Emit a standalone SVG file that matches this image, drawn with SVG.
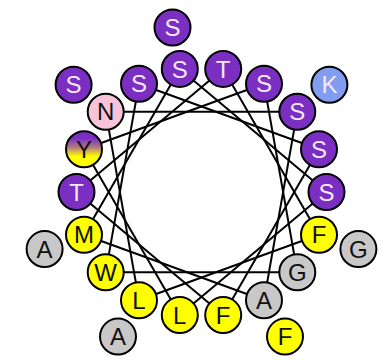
<svg xmlns="http://www.w3.org/2000/svg" width="384" height="360" viewBox="0 0 384 360">
<style>
.c{stroke:#000;stroke-width:2}
.p{fill:#7b2fc2}
.y{fill:#ffff00}
.g{fill:#c8c8c8}
.n{fill:#f6c3d8}
.k{fill:#809df0}
.yg{fill:url(#ygrad)}
text{font-family:"Liberation Sans",Arial,sans-serif;font-size:24px;text-anchor:middle}
.tw{fill:#f6e8f6}
.tb{fill:#111}
#links line{stroke:#000;stroke-width:2}
</style>
<defs>
<linearGradient id="ygrad" x1="0" y1="0" x2="0" y2="1">
<stop offset="0.2" stop-color="#7b2fc2"/>
<stop offset="0.45" stop-color="#b07a80"/>
<stop offset="0.7" stop-color="#ffff00"/>
</linearGradient>
</defs>
<rect width="384" height="360" fill="#fff"/>
<g id="links">
<line x1="326.5" y1="192" x2="179.8" y2="315.1"/>
<line x1="319.0" y1="234.8" x2="139.0" y2="300.3"/>
<line x1="297.3" y1="272.3" x2="105.7" y2="272.3"/>
<line x1="264.0" y1="300.3" x2="84.0" y2="234.8"/>
<line x1="223.2" y1="315.1" x2="76.5" y2="192"/>
<line x1="179.8" y1="315.1" x2="84.0" y2="149.2"/>
<line x1="139.0" y1="300.3" x2="105.7" y2="111.7"/>
<line x1="105.7" y1="272.3" x2="139.0" y2="83.7"/>
<line x1="84.0" y1="234.8" x2="179.8" y2="68.9"/>
<line x1="76.5" y1="192" x2="223.2" y2="68.9"/>
<line x1="84.0" y1="149.2" x2="264.0" y2="83.7"/>
<line x1="105.7" y1="111.7" x2="297.3" y2="111.7"/>
<line x1="139.0" y1="83.7" x2="319.0" y2="149.2"/>
<line x1="179.8" y1="68.9" x2="326.5" y2="192"/>
<line x1="223.2" y1="68.9" x2="319.0" y2="234.8"/>
<line x1="264.0" y1="83.7" x2="297.3" y2="272.3"/>
<line x1="297.3" y1="111.7" x2="264.0" y2="300.3"/>
<line x1="319.0" y1="149.2" x2="223.2" y2="315.1"/>
</g>
<g id="r19"><circle class="c g" cx="358.4" cy="249.1" r="18"/><text class="tb" x="358.4" y="257.7">G</text></g>
<g id="r20"><circle class="c g" cx="118.0" cy="336.6" r="18"/><text class="tb" x="118.0" y="345.2">A</text></g>
<g id="r21"><circle class="c p" cx="73.6" cy="84.7" r="18"/><text class="tw" x="73.6" y="93.3">S</text></g>
<g id="r22"><circle class="c k" cx="329.4" cy="84.7" r="18"/><text class="tw" x="329.4" y="93.3">K</text></g>
<g id="r23"><circle class="c y" cx="285.0" cy="336.6" r="18"/><text class="tb" x="285.0" y="345.2">F</text></g>
<g id="r24"><circle class="c g" cx="44.6" cy="249.1" r="18"/><text class="tb" x="44.6" y="257.7">A</text></g>
<g id="r25"><circle class="c p" cx="172.5" cy="27.5" r="18"/><text class="tw" x="172.5" y="36.1">S</text></g>
<g id="r1"><circle class="c y" cx="319.0" cy="234.8" r="18"/><text class="tb" x="319.0" y="243.4">F</text></g>
<g id="r2"><circle class="c y" cx="139.0" cy="300.3" r="18"/><text class="tb" x="139.0" y="308.9">L</text></g>
<g id="r3"><circle class="c n" cx="105.7" cy="111.7" r="18"/><text class="tb" x="105.7" y="120.3">N</text></g>
<g id="r4"><circle class="c p" cx="297.3" cy="111.7" r="18"/><text class="tw" x="297.3" y="120.3">S</text></g>
<g id="r5"><circle class="c g" cx="264.0" cy="300.3" r="18"/><text class="tb" x="264.0" y="308.9">A</text></g>
<g id="r6"><circle class="c y" cx="84.0" cy="234.8" r="18"/><text class="tb" x="84.0" y="243.4">M</text></g>
<g id="r7"><circle class="c p" cx="179.8" cy="68.9" r="18"/><text class="tw" x="179.8" y="77.5">S</text></g>
<g id="r8"><circle class="c p" cx="326.5" cy="192" r="18"/><text class="tw" x="326.5" y="200.6">S</text></g>
<g id="r9"><circle class="c y" cx="179.8" cy="315.1" r="18"/><text class="tb" x="179.8" y="323.7">L</text></g>
<g id="r10"><circle class="c yg" cx="84.0" cy="149.2" r="18"/><text class="tb" x="84.0" y="157.8">Y</text></g>
<g id="r11"><circle class="c p" cx="264.0" cy="83.7" r="18"/><text class="tw" x="264.0" y="92.3">S</text></g>
<g id="r12"><circle class="c g" cx="297.3" cy="272.3" r="18"/><text class="tb" x="297.3" y="280.9">G</text></g>
<g id="r13"><circle class="c y" cx="105.7" cy="272.3" r="18"/><text class="tb" x="105.7" y="280.9">W</text></g>
<g id="r14"><circle class="c p" cx="139.0" cy="83.7" r="18"/><text class="tw" x="139.0" y="92.3">S</text></g>
<g id="r15"><circle class="c p" cx="319.0" cy="149.2" r="18"/><text class="tw" x="319.0" y="157.8">S</text></g>
<g id="r16"><circle class="c y" cx="223.2" cy="315.1" r="18"/><text class="tb" x="223.2" y="323.7">F</text></g>
<g id="r17"><circle class="c p" cx="76.5" cy="192" r="18"/><text class="tw" x="76.5" y="200.6">T</text></g>
<g id="r18"><circle class="c p" cx="223.2" cy="68.9" r="18"/><text class="tw" x="223.2" y="77.5">T</text></g>
</svg>
